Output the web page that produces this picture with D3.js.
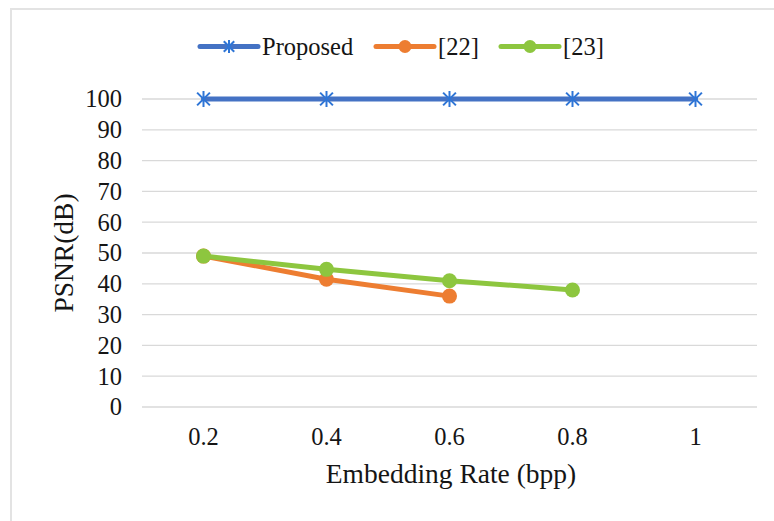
<!DOCTYPE html>
<html><head><meta charset="utf-8">
<script src="https://cdn.jsdelivr.net/npm/d3@7"></script>
<style>body{margin:0;background:#fff}svg{display:block}text{font-family:"Liberation Serif","Times New Roman",serif;fill:#151515}</style>
</head><body>
<script>
const categories = ["0.2", "0.4", "0.6", "0.8", "1"];
const proposed = [100, 100, 100, 100, 100];
const ref22 = [49, 41.5, 36, null, null];
const ref23 = [49, 44.7, 41, 38, null];
const yTicks = [0, 10, 20, 30, 40, 50, 60, 70, 80, 90, 100];
const seriesNames = ["Proposed", "[22]", "[23]"];
const colors = ["#4472C4", "#ED7D31", "#8DC63F"];

const W = 774, H = 521;
const svg = d3.select("body").append("svg").attr("width", W).attr("height", H);
// outer frame
svg.append("path").attr("d", `M11,${H} L11,9 L${W},9`).attr("fill", "none").attr("stroke", "#e3e3e3").attr("stroke-width", 2);

const x = d3.scaleBand().domain(categories).range([142, 757]);
const y = d3.scaleLinear().domain([0, 100]).range([407, 99]);

// grid
svg.append("g").selectAll("line").data(yTicks).join("line")
  .attr("x1", 142).attr("x2", 757)
  .attr("y1", d => y(d)).attr("y2", d => y(d))
  .attr("stroke", "#d9d9d9").attr("stroke-width", 1.3);

// y axis
const ya = svg.append("g").attr("transform", "translate(142,0)")
  .call(d3.axisLeft(y).tickValues(yTicks).tickSize(0).tickPadding(20));
ya.select(".domain").remove();
ya.selectAll("text").attr("font-size", 24.5).attr("font-family", "Liberation Serif").attr("fill", "#151515");

// x axis
const xa = svg.append("g").attr("transform", "translate(0,407)")
  .call(d3.axisBottom(x).tickSize(0).tickPadding(21));
xa.select(".domain").remove();
xa.selectAll("text").attr("font-size", 24.5).attr("font-family", "Liberation Serif").attr("fill", "#151515");

// titles
svg.append("text").attr("x", 451).attr("y", 483).attr("text-anchor", "middle").attr("font-size", 27.5).text("Embedding Rate (bpp)");
svg.append("text").attr("transform", "translate(73,253) rotate(-90)").attr("text-anchor", "middle").attr("font-size", 27.5).text("PSNR(dB)");

const cx = c => x(c) + x.bandwidth() / 2;
const allSeries = [proposed, ref22, ref23];
const line = d3.line().defined(d => d.v != null).x(d => cx(d.c)).y(d => y(d.v));

function asterisk(g, px, py, col, r) {
  g.append("line").attr("x1", px).attr("x2", px).attr("y1", py - r).attr("y2", py + r).attr("stroke", col).attr("stroke-width", 2);
  [[-1, -1], [1, -1]].forEach(([a, b]) => {
    g.append("line").attr("x1", px - a * r * 0.8).attr("y1", py - b * r * 0.8)
      .attr("x2", px + a * r * 0.8).attr("y2", py + b * r * 0.8).attr("stroke", col).attr("stroke-width", 2);
  });
}

// draw order: [22], [23], proposed
[1, 2, 0].forEach(i => {
  const data = categories.map((c, j) => ({c, v: allSeries[i][j]}));
  const g = svg.append("g");
  g.append("path").datum(data).attr("d", line).attr("fill", "none")
    .attr("stroke", colors[i]).attr("stroke-width", 5).attr("stroke-linejoin", "round").attr("stroke-linecap", "round");
  data.filter(d => d.v != null).forEach(d => {
    if (i === 0) asterisk(g, cx(d.c), y(d.v), "#2E75D6", 8);
    else g.append("circle").attr("cx", cx(d.c)).attr("cy", y(d.v)).attr("r", 7.5).attr("fill", colors[i]);
  });
});

// legend
const legX = [200, 376, 501];
seriesNames.forEach((n, i) => {
  const g = svg.append("g");
  const x0 = legX[i], yy = 46.5;
  g.append("line").attr("x1", x0).attr("x2", x0 + 58).attr("y1", yy).attr("y2", yy)
    .attr("stroke", colors[i]).attr("stroke-width", 5).attr("stroke-linecap", "round");
  if (i === 0) asterisk(g, x0 + 29, yy, "#2E75D6", 6.5);
  else g.append("circle").attr("cx", x0 + 29).attr("cy", yy).attr("r", 6.5).attr("fill", colors[i]);
  g.append("text").attr("x", x0 + 62).attr("y", yy + 8).attr("font-size", 24.5).text(n);
});
</script>
</body></html>
